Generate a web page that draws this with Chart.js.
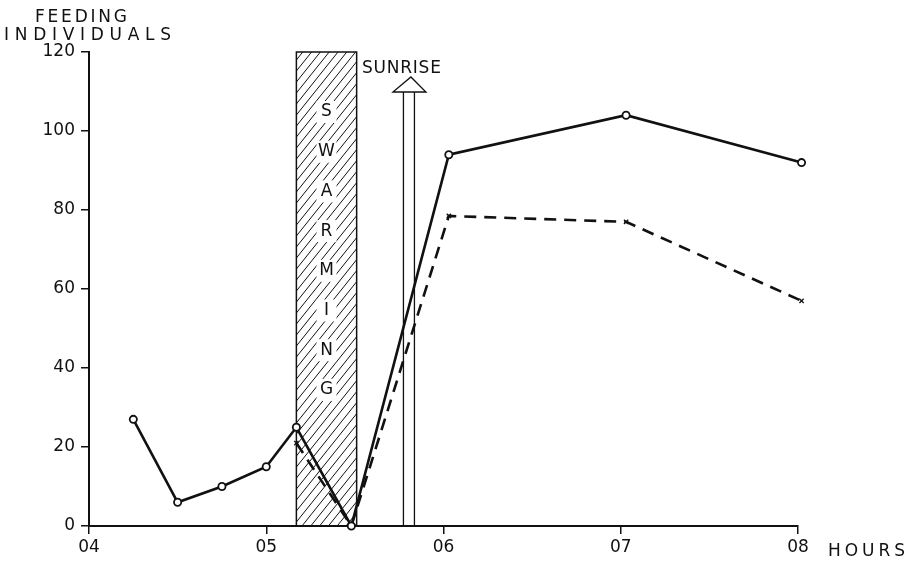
<!DOCTYPE html>
<html>
<head>
<meta charset="utf-8">
<script src="https://cdn.jsdelivr.net/npm/chart.js@4/dist/chart.umd.min.js"></script>
<style>
  html, body { margin: 0; padding: 0; background: #fff; }
  #wrap { width: 907px; height: 561px; }
</style>
</head>
<body>
<div id="wrap"><canvas id="c" width="907" height="561"></canvas></div>
<script>
// Hour axis (decimal hours) and its labels
const hourTicks = [4, 5, 6, 7, 8];
const hourLabels = ['04', '05', '06', '07', '08'];
const countTicks = [0, 20, 40, 60, 80, 100, 120];

// All feeding individuals (solid line, open circles)
const totalTime = [4.25, 4.5, 4.75, 5.0, 5.17, 5.48, 6.03, 7.03, 8.02];
const totalCount = [27, 6, 10, 15, 25, 0, 94, 104, 92];

// Second count (dashed line, crosses)
const partTime = [5.17, 5.48, 6.03, 7.03, 8.02];
const partCount = [21, 0, 78.5, 77, 57];

// Swarming period and sunrise, in decimal hours
const swarmStart = 5.17;
const swarmEnd = 5.51;
const sunriseTime = 5.805;

const FONT = 'DejaVu Sans';
const ink = '#111';

function toPoints(xs, ys) { return xs.map((x, i) => ({ x: x, y: ys[i] })); }

function spacedText(ctx, text, left, right, baseline, size) {
  ctx.save();
  ctx.font = size + 'px "' + FONT + '"';
  const w = ctx.measureText(text).width;
  const gap = text.length > 1 ? (right - left - w) / (text.length - 1) : 0;
  ctx.fillStyle = ink;
  ctx.textBaseline = 'alphabetic';
  let x = left;
  for (const ch of text) {
    ctx.fillText(ch, x, baseline);
    x += ctx.measureText(ch).width + gap;
  }
  ctx.restore();
}

const decorations = {
  id: 'decorations',
  beforeDatasetsDraw(chart) {
    const ctx = chart.ctx;
    const xs = chart.scales.x, ys = chart.scales.y;
    const x0 = xs.getPixelForValue(swarmStart);
    const x1 = xs.getPixelForValue(swarmEnd);
    const yTop = ys.getPixelForValue(120);
    const yBot = ys.getPixelForValue(0);

    // hatched swarming band
    ctx.save();
    ctx.beginPath();
    ctx.rect(x0, yTop, x1 - x0, yBot - yTop);
    ctx.clip();
    ctx.strokeStyle = ink;
    ctx.lineWidth = 1;
    const slope = 1.25;
    for (let yy = yTop - 80; yy < yBot + 120; yy += 11) {
      ctx.beginPath();
      ctx.moveTo(x0, yy);
      ctx.lineTo(x1, yy - (x1 - x0) * slope);
      ctx.stroke();
    }
    ctx.restore();

    ctx.save();
    ctx.strokeStyle = ink;
    ctx.lineWidth = 1.5;
    ctx.strokeRect(x0, yTop, x1 - x0, yBot - yTop);
    ctx.restore();

    // SWARMING, written down the band
    const word = 'SWARMING';
    const cx = (x0 + x1) / 2;
    ctx.save();
    ctx.font = '17px "' + FONT + '"';
    ctx.textAlign = 'center';
    ctx.textBaseline = 'middle';
    for (let i = 0; i < word.length; i++) {
      const cy = 112 + i * 39.7;
      ctx.fillStyle = '#fff';
      ctx.fillRect(cx - 10, cy - 11, 20, 22);
      ctx.fillStyle = ink;
      ctx.fillText(word[i], cx, cy);
    }
    ctx.restore();

    // sunrise arrow
    const sx = xs.getPixelForValue(sunriseTime);
    const headBase = 92, headTip = 77;
    ctx.save();
    ctx.strokeStyle = ink;
    ctx.lineWidth = 1.3;
    ctx.beginPath();
    ctx.moveTo(sx - 5.5, yBot); ctx.lineTo(sx - 5.5, headBase);
    ctx.moveTo(sx + 5.5, yBot); ctx.lineTo(sx + 5.5, headBase);
    ctx.stroke();
    ctx.beginPath();
    ctx.moveTo(sx - 16, headBase);
    ctx.lineTo(sx + 17, headBase);
    ctx.lineTo(sx + 2, headTip);
    ctx.closePath();
    ctx.fillStyle = '#fff';
    ctx.fill();
    ctx.stroke();
    ctx.restore();

    spacedText(ctx, 'SUNRISE', sx - 47, sx + 32, 73, 17);
  },
  afterDraw(chart) {
    const ctx = chart.ctx;
    spacedText(ctx, 'FEEDING', 35, 127, 22, 17);
    spacedText(ctx, 'INDIVIDUALS', 4, 171, 40, 17);
    spacedText(ctx, 'HOURS', 828, 905, 556, 17);
  }
};

new Chart(document.getElementById('c'), {
  type: 'line',
  data: {
    datasets: [
      {
        data: toPoints(totalTime, totalCount),
        borderColor: ink,
        borderWidth: 2.6,
        pointStyle: 'circle',
        pointRadius: 3.6,
        pointBorderWidth: 1.8,
        pointBackgroundColor: '#fff',
        pointBorderColor: ink,
        tension: 0,
        clip: false,
        order: 1
      },
      {
        data: toPoints(partTime, partCount),
        borderColor: ink,
        borderWidth: 2.6,
        borderDash: [12, 8],
        pointStyle: 'crossRot',
        pointRadius: 3,
        pointBorderWidth: 1.3,
        pointBorderColor: ink,
        tension: 0,
        clip: false,
        order: 2
      }
    ]
  },
  options: {
    responsive: false,
    devicePixelRatio: 1,
    animation: false,
    events: [],
    layout: { padding: { top: 52, right: 109, left: 0, bottom: 0 } },
    plugins: { legend: { display: false }, tooltip: { enabled: false } },
    scales: {
      x: {
        type: 'linear',
        min: 4, max: 8,
        afterBuildTicks(scale) { scale.ticks = hourTicks.map(v => ({ value: v })); },
        afterFit(scale) { scale.height = 35; },
        ticks: {
          callback: v => hourLabels[hourTicks.indexOf(v)],
          font: { family: FONT, size: 17 },
          color: ink,
          padding: 3,
          maxRotation: 0,
          autoSkip: false
        },
        grid: { drawOnChartArea: false, drawTicks: true, tickLength: 8, color: ink, lineWidth: 1.5 },
        border: { display: true, color: ink, width: 2 }
      },
      y: {
        type: 'linear',
        min: 0, max: 120,
        afterBuildTicks(scale) { scale.ticks = countTicks.map(v => ({ value: v })); },
        afterFit(scale) { scale.width = 89; },
        ticks: {
          font: { family: FONT, size: 17 },
          color: ink,
          padding: 6,
          autoSkip: false
        },
        grid: { drawOnChartArea: false, drawTicks: true, tickLength: 8, color: ink, lineWidth: 1.5 },
        border: { display: true, color: ink, width: 2 }
      }
    }
  },
  plugins: [decorations]
});
</script>
</body>
</html>
